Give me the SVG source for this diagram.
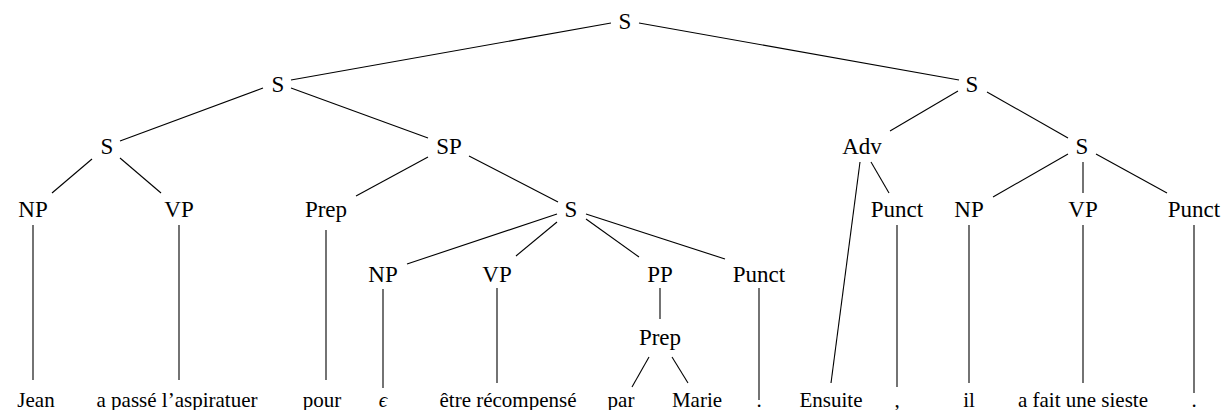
<svg xmlns="http://www.w3.org/2000/svg" width="1224" height="410" viewBox="0 0 1224 410">
<defs>
<style>
#edges line{stroke:#000;stroke-width:1.1}
</style>
</defs>
<rect width="1224" height="410" fill="#fff"/>
<g id="edges" stroke="#000" stroke-width="1.1">
<line x1="611" y1="23" x2="291" y2="80"/>
<line x1="639" y1="23" x2="959" y2="80"/>
<line x1="263" y1="88" x2="120" y2="141"/>
<line x1="291" y1="88" x2="428" y2="138"/>
<line x1="92" y1="159" x2="52" y2="193"/>
<line x1="120" y1="158" x2="161" y2="193"/>
<line x1="428" y1="157" x2="356" y2="196"/>
<line x1="469" y1="156" x2="558" y2="202"/>
<line x1="33" y1="225" x2="33" y2="380"/>
<line x1="179" y1="225" x2="179" y2="380"/>
<line x1="326" y1="230" x2="326" y2="380"/>
<line x1="557" y1="214" x2="407" y2="264"/>
<line x1="557" y1="222" x2="516" y2="256"/>
<line x1="586" y1="219" x2="639" y2="257"/>
<line x1="586" y1="214" x2="725" y2="259"/>
<line x1="383" y1="289" x2="383" y2="388"/>
<line x1="497" y1="288" x2="497" y2="383"/>
<line x1="660" y1="288" x2="660" y2="319"/>
<line x1="649" y1="357" x2="632" y2="387"/>
<line x1="672" y1="357" x2="688" y2="383"/>
<line x1="759" y1="288" x2="759" y2="400"/>
<line x1="958" y1="91" x2="890" y2="131"/>
<line x1="987" y1="92" x2="1068" y2="138"/>
<line x1="860" y1="162" x2="831" y2="383"/>
<line x1="871" y1="162" x2="889" y2="193"/>
<line x1="1068" y1="154" x2="993" y2="197"/>
<line x1="1083" y1="162" x2="1083" y2="193"/>
<line x1="1096" y1="154" x2="1167" y2="193"/>
<line x1="897" y1="225" x2="897" y2="387"/>
<line x1="969" y1="225" x2="969" y2="383"/>
<line x1="1083" y1="225" x2="1083" y2="383"/>
<line x1="1194" y1="225" x2="1194" y2="393"/>
</g>
<g id="n_root"><text x="625" y="29" text-anchor="middle" style="font-family:'Liberation Serif',serif;font-size:23px">S</text></g>
<g id="n_s_left"><text x="278" y="92" text-anchor="middle" style="font-family:'Liberation Serif',serif;font-size:23px">S</text></g>
<g id="n_s_right"><text x="972" y="92" text-anchor="middle" style="font-family:'Liberation Serif',serif;font-size:23px">S</text></g>
<g id="n_s_a"><text x="107" y="154" text-anchor="middle" style="font-family:'Liberation Serif',serif;font-size:23px">S</text></g>
<g id="n_sp"><text x="449" y="154" text-anchor="middle" style="font-family:'Liberation Serif',serif;font-size:23px">SP</text></g>
<g id="n_adv"><text x="862" y="154" text-anchor="middle" style="font-family:'Liberation Serif',serif;font-size:23px">Adv</text></g>
<g id="n_s_b"><text x="1082" y="154" text-anchor="middle" style="font-family:'Liberation Serif',serif;font-size:23px">S</text></g>
<g id="n_np1"><text x="33" y="217" text-anchor="middle" style="font-family:'Liberation Serif',serif;font-size:23px">NP</text></g>
<g id="n_vp1"><text x="179" y="217" text-anchor="middle" style="font-family:'Liberation Serif',serif;font-size:23px">VP</text></g>
<g id="n_prep1"><text x="326" y="217" text-anchor="middle" style="font-family:'Liberation Serif',serif;font-size:23px">Prep</text></g>
<g id="n_s_c"><text x="571" y="217" text-anchor="middle" style="font-family:'Liberation Serif',serif;font-size:23px">S</text></g>
<g id="n_punct1"><text x="897" y="217" text-anchor="middle" style="font-family:'Liberation Serif',serif;font-size:23px">Punct</text></g>
<g id="n_np3"><text x="969" y="217" text-anchor="middle" style="font-family:'Liberation Serif',serif;font-size:23px">NP</text></g>
<g id="n_vp3"><text x="1083" y="217" text-anchor="middle" style="font-family:'Liberation Serif',serif;font-size:23px">VP</text></g>
<g id="n_punct3"><text x="1194" y="217" text-anchor="middle" style="font-family:'Liberation Serif',serif;font-size:23px">Punct</text></g>
<g id="n_np2"><text x="383" y="282" text-anchor="middle" style="font-family:'Liberation Serif',serif;font-size:23px">NP</text></g>
<g id="n_vp2"><text x="497" y="282" text-anchor="middle" style="font-family:'Liberation Serif',serif;font-size:23px">VP</text></g>
<g id="n_pp"><text x="660" y="282" text-anchor="middle" style="font-family:'Liberation Serif',serif;font-size:23px">PP</text></g>
<g id="n_punct2"><text x="759" y="282" text-anchor="middle" style="font-family:'Liberation Serif',serif;font-size:23px">Punct</text></g>
<g id="n_prep2"><text x="660" y="345" text-anchor="middle" style="font-family:'Liberation Serif',serif;font-size:23px">Prep</text></g>
<g id="l_jean"><text x="36" y="407" text-anchor="middle" style="font-family:'Liberation Serif',serif;font-size:21px">Jean</text></g>
<g id="l_apasse"><text x="177" y="407" text-anchor="middle" style="font-family:'Liberation Serif',serif;font-size:21px">a passé l’aspiratuer</text></g>
<g id="l_pour"><text x="322" y="407" text-anchor="middle" style="font-family:'Liberation Serif',serif;font-size:21px">pour</text></g>
<g id="l_eps"><text x="383" y="407" text-anchor="middle" style="font-family:'Liberation Serif',serif;font-size:21px;font-style:italic">ϵ</text></g>
<g id="l_etre"><text x="508" y="407" text-anchor="middle" style="font-family:'Liberation Serif',serif;font-size:21px">être récompensé</text></g>
<g id="l_par"><text x="621" y="407" text-anchor="middle" style="font-family:'Liberation Serif',serif;font-size:21px">par</text></g>
<g id="l_marie"><text x="697" y="407" text-anchor="middle" style="font-family:'Liberation Serif',serif;font-size:21px">Marie</text></g>
<g id="l_dot1"><text x="759" y="407" text-anchor="middle" style="font-family:'Liberation Serif',serif;font-size:21px">.</text></g>
<g id="l_ensuite"><text x="831" y="407" text-anchor="middle" style="font-family:'Liberation Serif',serif;font-size:21px">Ensuite</text></g>
<g id="l_comma"><text x="897" y="407" text-anchor="middle" style="font-family:'Liberation Serif',serif;font-size:21px">,</text></g>
<g id="l_il"><text x="969" y="407" text-anchor="middle" style="font-family:'Liberation Serif',serif;font-size:21px">il</text></g>
<g id="l_afait"><text x="1083" y="407" text-anchor="middle" style="font-family:'Liberation Serif',serif;font-size:21px">a fait une sieste</text></g>
<g id="l_dot2"><text x="1194" y="407" text-anchor="middle" style="font-family:'Liberation Serif',serif;font-size:21px">.</text></g>
</svg>
